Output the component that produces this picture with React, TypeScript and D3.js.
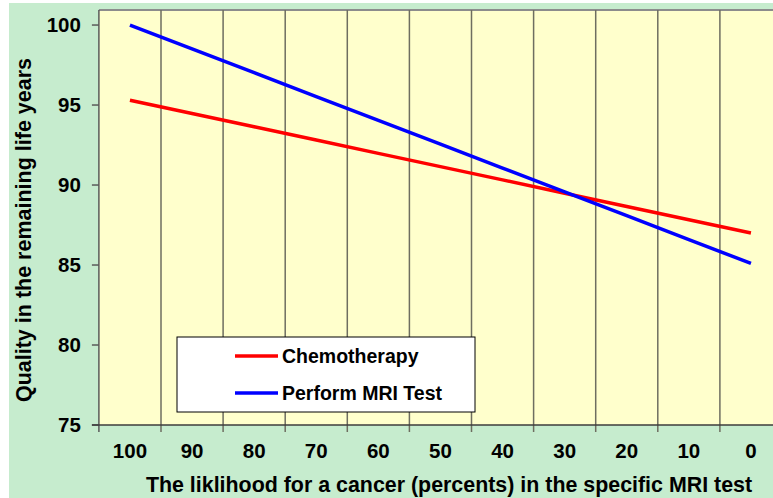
import React from "react";
import * as d3 from "d3";

const categories = ["100", "90", "80", "70", "60", "50", "40", "30", "20", "10", "0"];
const chemotherapy = [95.3, 94.47, 93.64, 92.81, 91.98, 91.15, 90.32, 89.49, 88.66, 87.83, 87.0];
const mriTest = [100.0, 98.51, 97.02, 95.53, 94.04, 92.55, 91.06, 89.57, 88.08, 86.59, 85.1];
const yTicks = [75, 80, 85, 90, 95, 100];
const seriesNames = ["Chemotherapy", "Perform MRI Test"];
const seriesColors = ["#ff0000", "#0000ff"];

const W = 773;
const H = 498;
const FONT = "'Liberation Sans', Arial, sans-serif";

export default function App() {
  const plot = { left: 98.9, top: 10, right: 782, bottom: 425 };
  const x = d3
    .scaleBand<string>()
    .domain(categories)
    .range([plot.left, plot.right])
    .paddingInner(0)
    .paddingOuter(0);
  const y = d3.scaleLinear().domain([75, 100.94]).range([plot.bottom, plot.top]);
  const bw = x.bandwidth();
  const line = d3
    .line<number>()
    .x((_, i) => (x(categories[i]) as number) + bw / 2)
    .y((d) => y(d));

  const series = [chemotherapy, mriTest];
  const boundaries = categories.map((c) => x(c) as number).concat([plot.right]);

  return (
    <svg
      width={W}
      height={H}
      style={{ position: "absolute", left: 0, top: 0 }}
      fontFamily={FONT}
    >
      <rect x={0} y={0} width={W} height={H} fill="#ffffff" />
      <rect x={9} y={3} width={W - 9} height={H - 3} fill="#c6ecce" />
      <rect
        x={plot.left}
        y={plot.top}
        width={plot.right - plot.left}
        height={plot.bottom - plot.top}
        fill="#ffffcc"
      />
      <line x1={plot.left} x2={W} y1={plot.top} y2={plot.top} stroke="#8c8c8c" strokeWidth={2} />
      {boundaries.slice(1, -1).map((bx, i) => (
        <line
          key={"g" + i}
          x1={bx}
          x2={bx}
          y1={plot.top}
          y2={plot.bottom + 7}
          stroke="#6e6e60"
          strokeWidth={1.5}
        />
      ))}
      <line x1={plot.left} x2={plot.left} y1={plot.top} y2={plot.bottom + 7} stroke="#5a5a5a" strokeWidth={1.5} />
      {yTicks.map((t) => (
        <g key={"y" + t}>
          <line x1={plot.left - 7} x2={plot.left} y1={y(t)} y2={y(t)} stroke="#5a5a5a" strokeWidth={1.5} />
          <text
            x={plot.left - 18}
            y={y(t)}
            dy="0.35em"
            textAnchor="end"
            fontSize={20.5}
            fontWeight="bold"
            fill="#000"
          >
            {t}
          </text>
        </g>
      ))}
      <line x1={plot.left - 7} x2={W} y1={plot.bottom} y2={plot.bottom} stroke="#3c3c3c" strokeWidth={1.5} />
      {categories.map((c) => (
        <text
          key={"x" + c}
          x={(x(c) as number) + bw / 2}
          y={451}
          dy="0.35em"
          textAnchor="middle"
          fontSize={20.5}
          fontWeight="bold"
          fill="#000"
        >
          {c}
        </text>
      ))}
      {series.map((s, i) => (
        <path
          key={"s" + i}
          d={line(s) || ""}
          fill="none"
          stroke={seriesColors[i]}
          strokeWidth={3.5}
        />
      ))}
      <rect x={177} y={337} width={298} height={75} fill="#ffffff" stroke="#000" strokeWidth={1} />
      {seriesNames.map((n, i) => {
        const ly = 356 + i * 37;
        return (
          <g key={"l" + i}>
            <line x1={235} x2={278} y1={ly} y2={ly} stroke={seriesColors[i]} strokeWidth={3.5} />
            <text x={282} y={ly} dy="0.35em" fontSize={19.5} fontWeight="bold" fill="#000">
              {n}
            </text>
          </g>
        );
      })}
      <text
        x={449}
        y={485}
        dy="0.35em"
        textAnchor="middle"
        fontSize={21.4}
        fontWeight="bold"
        fill="#000"
      >
        The liklihood for a cancer (percents) in the specific MRI test
      </text>
      <text
        transform={`translate(23, ${230}) rotate(-90)`}
        textAnchor="middle"
        dy="0.35em"
        fontSize={21.5}
        fontWeight="bold"
        fill="#000"
      >
        Quality in the remaining life years
      </text>
    </svg>
  );
}
